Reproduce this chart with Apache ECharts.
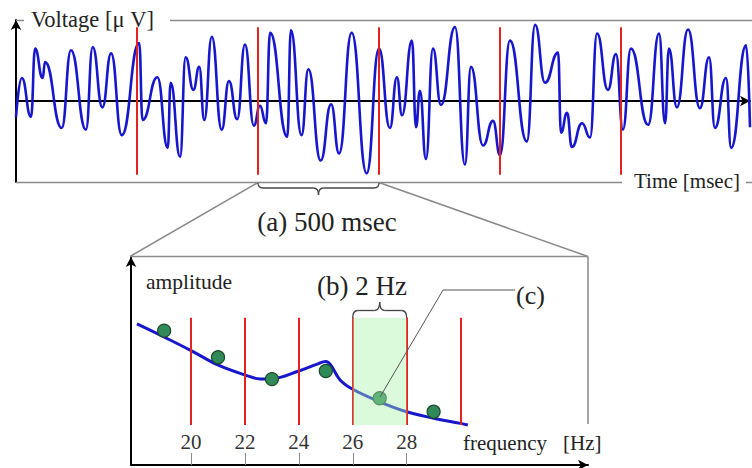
<!DOCTYPE html>
<html><head><meta charset="utf-8">
<script src="https://cdn.jsdelivr.net/npm/echarts@6/dist/echarts.min.js"></script>
<style>html,body{margin:0;padding:0;background:#fff}#c{width:752px;height:468px}</style>
</head><body><div id="c"></div>
<script>
// ---- top panel: time signal ----
const timeMs = [0,24,62,79,110,120,189,227,289,317,357,393,437,509,523,584,627,639,678,701,733,757,778,809,850,880,914,946,983,1008,1033,1050,1121,1136,1180,1208,1259,1302,1335,1387,1449,1500,1545,1574,1595,1636,1653,1669,1694,1723,1756,1814,1855,1880,1930,1971,2000,2041,2111,2145,2186,2240,2252,2277,2297,2339,2372,2401,2446,2479,2508,2541,2612,2657,2682,2698,2731,2777,2826,2864,2888,2934,2955,3017,3033];
const voltage = [-0.20,0.29,-0.20,0.66,0.29,0.49,-0.34,0.64,-0.36,0.68,-0.08,0.60,-0.43,0.73,-0.24,0.30,-0.59,0.23,-0.70,0.55,0.14,0.43,-0.24,0.81,-0.36,0.25,-0.23,0.71,-0.31,-0.06,-0.28,0.86,-0.45,0.89,-0.43,0.40,-0.75,-0.04,-0.66,0.86,-0.91,0.66,-0.34,0.30,-0.18,0.76,-0.33,0.13,-0.73,0.66,-0.05,0.93,-0.80,0.43,-0.56,-0.25,-0.68,0.76,-0.51,0.96,0.23,0.61,-0.40,-0.15,-0.58,-0.28,-0.46,0.85,0.14,0.59,-0.36,0.66,-0.30,0.85,-0.28,0.66,-0.08,0.90,-0.09,0.55,-0.34,0.29,-0.59,0.70,-0.33];
const windowBoundsMs = [500,1000,1500,2000,2500];

// ---- bottom panel: spectrum ----
const freqHz   = [17.99,18.97,20,20.99,22,22.56,23,24,24.66,25.0,25.18,25.53,26,27,28,29,30,30.27];
const spectrum = [6.78,6.17,5.50,4.81,4.33,4.14,4.15,4.52,4.84,4.97,4.81,4.09,3.64,3.04,2.56,2.25,2.00,1.92];
const sampleHz  = [19,21,23,25,27,29];
const sampleAmp = [6.46,5.18,4.13,4.52,3.21,2.56];
const binEdgesHz = [20,22,24,26,28,30];
const tickHz = [20,22,24,26,28];
const bandHz = [26,28];
const binAmpRange = [1.92,7.08];

const SERIF = '"Liberation Serif","DejaVu Serif",serif';
const BLUE = '#1616cc', RED = '#e52222', GRAY = '#8a8a8a', DARK = '#444';

const chart = echarts.init(document.getElementById('c'), null, {renderer:'svg', width:752, height:468});

const txt = (x,y,text,size,align) => ({type:'text', z:100, x, y, style:{text, font:size+'px '+SERIF, fill:'#222', textAlign:align||'left', textVerticalAlign:'middle'}});
const ln = (x1,y1,x2,y2,color,w) => ({type:'line', z:100, shape:{x1,y1,x2,y2}, style:{stroke:color||GRAY, lineWidth:w||1.5}});
const bz = (x1,y1,cpx1,cpy1,x2,y2) => ({type:'bezierCurve', z:100, shape:{x1,y1,cpx1,cpy1,x2,y2}, style:{stroke:DARK, lineWidth:1.3, fill:null}});
function brace(xl, xr, y0, yb, yt){
  const xm = (xl+xr)/2, r = 5;
  return [
    bz(xl,y0, xl,yb, xl+r,yb),
    ln(xl+r,yb, xm-r,yb, DARK,1.3),
    bz(xm-r,yb, xm,yb, xm,yt),
    bz(xm,yt, xm,yb, xm+r,yb),
    ln(xm+r,yb, xr-r,yb, DARK,1.3),
    bz(xr-r,yb, xr,yb, xr,y0)
  ];
}

chart.setOption({
  animation:false,
  grid:[
    {left:16, right:2, top:20, height:162},
    {left:131, right:164, top:257, bottom:3}
  ],
  xAxis:[
    {gridIndex:0, type:'value', min:0, max:3033,
     axisLine:{onZero:true, lineStyle:{color:'#000', width:2}, symbol:['none','arrow'], symbolSize:[8,10]},
     axisTick:{show:false}, axisLabel:{show:false}, splitLine:{show:false}},
    {gridIndex:1, type:'value', min:17.77, max:34.73,
     axisLine:{lineStyle:{color:'#000', width:2}, symbol:['none','arrow'], symbolSize:[8,10]},
     axisTick:{show:true, inside:true, length:12, customValues:tickHz, lineStyle:{color:GRAY, width:1}},
     axisLabel:{show:true, inside:true, margin:13, customValues:tickHz, fontFamily:SERIF, fontSize:21, color:'#333'},
     splitLine:{show:false}}
  ],
  yAxis:[
    {gridIndex:0, type:'value', min:-1.02, max:1.02,
     axisLine:{show:true, onZero:false, lineStyle:{color:'#000', width:2}, symbol:['none','arrow'], symbolSize:[8,10]},
     axisTick:{show:false}, axisLabel:{show:false}, splitLine:{show:false}},
    {gridIndex:1, type:'value', min:0, max:10,
     axisLine:{show:true, onZero:false, lineStyle:{color:'#000', width:2}, symbol:['none','arrow'], symbolSize:[8,10]},
     axisTick:{show:false}, axisLabel:{show:false}, splitLine:{show:false}}
  ],
  series:[
    {type:'line', xAxisIndex:0, yAxisIndex:0, z:3,
     data: timeMs.map((t,i)=>[t, voltage[i]]),
     smooth:0.5, smoothMonotone:'x', showSymbol:false, silent:true,
     lineStyle:{color:BLUE, width:2.6}},
    {type:'line', xAxisIndex:0, yAxisIndex:0, z:4, data:[], silent:true,
     markLine:{symbol:'none', silent:true, label:{show:false},
       lineStyle:{color:RED, width:2, type:'solid'},
       data: windowBoundsMs.map(t=>[{coord:[t,0.93]},{coord:[t,-0.93]}])}},
    {type:'line', xAxisIndex:1, yAxisIndex:1, z:2,
     data: freqHz.map((f,i)=>[f, spectrum[i]]),
     smooth:0.4, showSymbol:false, silent:true,
     lineStyle:{color:BLUE, width:3}},
    {type:'scatter', xAxisIndex:1, yAxisIndex:1, z:3, silent:true,
     data: sampleHz.map((f,i)=>[f, sampleAmp[i]]),
     symbolSize:13, itemStyle:{color:'#2f8a58', borderColor:'#1c4a2c', borderWidth:1.2, opacity:1}},
    {type:'custom', xAxisIndex:1, yAxisIndex:1, z:8, silent:true,
     data:[[bandHz[0], bandHz[1], binAmpRange[0], binAmpRange[1]]],
     renderItem:(params, api) => {
       const p0 = api.coord([api.value(0), api.value(3)]);
       const p1 = api.coord([api.value(1), api.value(2)]);
       return {type:'rect', shape:{x:p0[0], y:p0[1], width:p1[0]-p0[0], height:p1[1]-p0[1]},
               style:{fill:'rgba(170,240,170,0.42)'}};
     }},
    {type:'line', xAxisIndex:1, yAxisIndex:1, z:9, data:[], silent:true,
     markLine:{symbol:'none', silent:true, label:{show:false},
       lineStyle:{color:RED, width:2, type:'solid'},
       data: binEdgesHz.map(f=>[{coord:[f,binAmpRange[1]]},{coord:[f,binAmpRange[0]]}])}}
  ],
  graphic:[
    ln(16,20.5,24,20.5), ln(170,20.5,752,20.5),
    ln(16,182.5,622,182.5), ln(746,182.5,752,182.5),
    txt(31,19,'Voltage [\u03BC V]',22.5),
    txt(634,181,'Time [msec]',21),
    ln(258,182.5,130,256.5), ln(379,182.5,588,256.5),
    ln(130,256.5,588,256.5), ln(588,256.5,588,424),
    ...brace(258,379,183,188,195),
    txt(327,222,'(a) 500 msec',27,'center'),
    txt(146,282,'amplitude',21.5),
    txt(362,286,'(b) 2 Hz',27,'center'),
    ...brace(352.7,406.7,318,310.5,302),
    {type:'polyline', z:100, shape:{points:[[380,397],[443,290],[515,290]]}, style:{stroke:'#555', lineWidth:1, fill:null}},
    txt(516,295,'(c)',26),
    txt(463,443,'frequency',21),
    txt(563,443,'[Hz]',21)
  ]
});
</script></body></html>
